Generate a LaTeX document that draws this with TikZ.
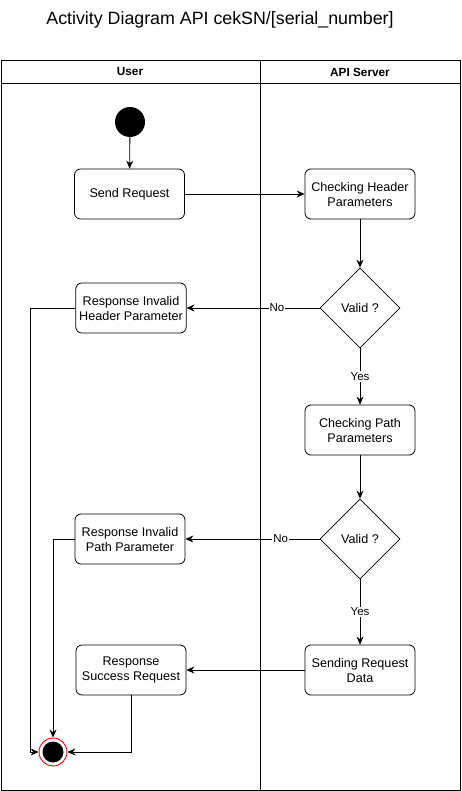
\documentclass[tikz,border=0pt]{standalone}
\usepackage{fontspec}
\setmainfont{Liberation Sans}
\usetikzlibrary{shapes.geometric,arrows.meta}
\begin{document}
\begin{tikzpicture}[x=1pt,y=-1pt,
  act/.style={draw,rounded corners=6pt,minimum width=110pt,minimum height=50pt,align=center,font=\fontsize{12.6}{15}\selectfont,line width=0.8pt},
  dec/.style={draw,diamond,minimum width=80pt,minimum height=80pt,inner sep=0pt,font=\fontsize{12.6}{15}\selectfont,line width=0.8pt},
  flow/.style={line width=0.8pt,-{Stealth[length=8pt,width=7pt]}},
  lbl/.style={fill=white,inner sep=1pt,font=\fontsize{11.5}{13}\selectfont},
  hdr/.style={font=\bfseries\fontsize{11.8}{14}\selectfont}]
\useasboundingbox (0,0) rectangle (461,791);
% title
\node (title) at (220,20) {\fontsize{17.8}{21}\selectfont Activity Diagram API cekSN/[serial\_number]};
% swimlanes
\draw[line width=0.8pt] (1,60) rectangle (460,790);
\draw[line width=0.8pt] (1,83) -- (460,83);
\draw[line width=0.8pt] (260,60) -- (260,790);
\node[hdr] (userh) at (130,72) {User};
\node[hdr] (apih) at (360,72) {API Server};
% nodes
\node[circle,fill=black,minimum size=30pt,inner sep=0pt] (start) at (130,122) {};
\node[act] (send) at (129.5,194) {Send Request};
\node[act] (chkh) at (360,194) {Checking Header\\Parameters};
\node[dec] (v1) at (360,308) {Valid ?};
\node[act] (rih) at (131,308) {Response Invalid\\Header Parameter};
\node[act] (chkp) at (360,430) {Checking Path\\Parameters};
\node[dec] (v2) at (360,539) {Valid ?};
\node[act] (rip) at (130,539) {Response Invalid\\Path Parameter};
\node[act] (srd) at (360,670) {Sending Request\\Data};
\node[act] (rss) at (131,670) {Response\\Success Request};
\node[circle,draw=red,line width=0.9pt,fill=white,minimum size=28pt,inner sep=0pt] (endo) at (53,752) {};
\node[circle,fill=black,minimum size=21pt,inner sep=0pt] (endi) at (53,752) {};
% connectors
\draw[flow] (start) -- (send);
\draw[flow] (send) -- (chkh);
\draw[flow] (chkh) -- (v1);
\draw[flow] (v1) -- node[lbl,pos=0.32]{No} (rih);
\draw[flow] (v1) -- node[lbl]{Yes} (chkp);
\draw[flow] (chkp) -- (v2);
\draw[flow] (v2) -- node[lbl,pos=0.29]{No} (rip);
\draw[flow] (v2) -- node[lbl]{Yes} (srd);
\draw[flow] (srd) -- (rss);
\draw[flow] (rih.west) -| (30,752) -- (endo.west);
\draw[flow] (rip.west) -| (endo.north);
\draw[flow] (rss.south) |- (endo.east);
\end{tikzpicture}
\end{document}
